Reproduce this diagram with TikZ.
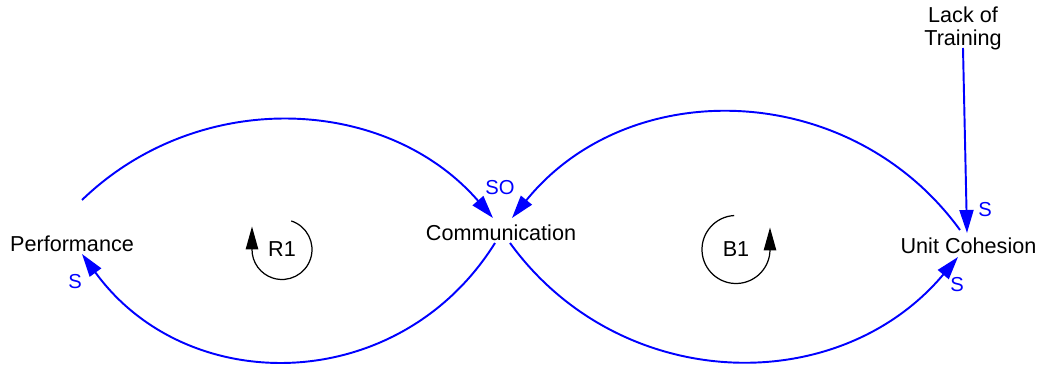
\documentclass[tikz,border=0pt]{standalone}
\usepackage{fontspec}
\setmainfont{Liberation Sans}
\usetikzlibrary{arrows.meta}

\tikzset{
	var/.style={font=\fontsize{12.3}{13.1}\selectfont, align=center, inner sep=1pt},
	pol/.style={text=blue, font=\fontsize{11.5}{13}\selectfont, inner sep=1pt},
	link/.style={blue, line width=1.1pt, -{Triangle[length=0.46cm, width=0.28cm]}},
	loopline/.style={black, line width=0.7pt, -{Triangle[length=0.46cm, width=0.25cm]}}
}

\begin{document}
\begin{tikzpicture}
		\useasboundingbox (0,0) rectangle (20.8,7.34);
		
		% variables
		\node[var] (perf) at (1.44,2.46) {Performance};
		\node[var] (comm) at (10.02,2.68) {Communication};
		\node[var] (uc) at (19.37,2.42) {Unit Cohesion};
		\node[var] (lack) at (19.26,6.78) {Lack of\\Training};
		
		% loop markers
		\node[var] (r1) at (5.64,2.35) {R1};
		\node[var] (b1) at (14.72,2.35) {B1};
		\draw[loopline] ([shift={(72:0.6)}]r1.center) arc[start angle=72, end angle=-180, radius=0.6] -- ++(0,0.46);
		\draw[loopline] ([shift={(93:0.68)}]b1.center) arc[start angle=93, end angle=360, radius=0.68] -- ++(0,0.44);
		
		% left loop
		\draw[link] ([shift={(0.2,0.88)}]perf.center) .. controls +(44:3.25) and +(131:3.25) .. ([shift={(-0.16,0.3)}]comm.center);
		\draw[link] ([shift={(-0.12,-0.2)}]comm.center) .. controls +(238:3.6) and +(306:3.6) .. ([shift={(0.2,-0.2)}]perf.center);
		
		% right loop
		\draw[link] ([shift={(-0.17,0.32)}]uc.center) .. controls +(126:3.72) and +(51:3.72) .. ([shift={(0.22,0.3)}]comm.center);
		\draw[link] ([shift={(0.18,-0.2)}]comm.center) .. controls +(-54:3.73) and +(230:3.73) .. ([shift={(-0.21,-0.22)}]uc.center);
		
		% outside cause
		\draw[link] ([yshift=-0.4cm]lack.center) -- ([shift={(-0.03,0.26)}]uc.center);
		
		% polarities
		\node[pol] (soComm) at (10.0,3.58) {SO};
		\node[pol] (sPerf) at (1.5,1.7) {S};
		\node[pol] (sLack) at (19.7,3.14) {S};
		\node[pol] (sUc) at (19.14,1.64) {S};
	\end{tikzpicture}
\end{document}
